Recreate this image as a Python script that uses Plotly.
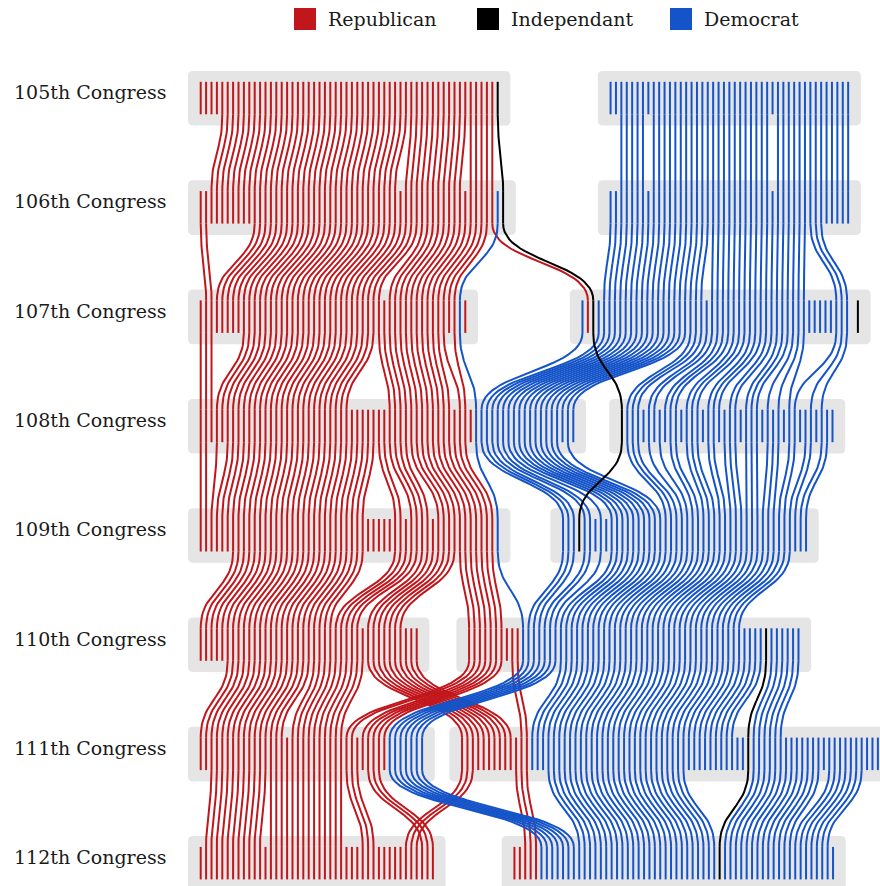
import numpy as np
import plotly.graph_objects as go

# ---------------- data ----------------
CONGRESSES = ["105th Congress", "106th Congress", "107th Congress", "108th Congress",
              "109th Congress", "110th Congress", "111th Congress", "112th Congress"]
PARTIES = ["R", "I", "D"]
PARTY_NAMES = {"R": "Republican", "I": "Independant", "D": "Democrat"}

# seats of every group (box) in each congress, as runs of (party, count); "-" = empty slot
GROUP_RUNS = [
    [[("R", 55), ("I", 1)], [("D", 45)]],
    [[("R", 55), ("D", 1), ("I", 1)], [("D", 45)]],
    [[("R", 48), ("D", 1), ("R", 1)], [("D", 1), ("R", 1), ("I", 1), ("D", 47), ("-", 1), ("I", 1)]],
    [[("R", 51), ("D", 19)], [("I", 1), ("D", 39)]],
    [[("R", 55), ("D", 1)], [("D", 3), ("I", 1), ("D", 42)]],
    [[("R", 41)], [("R", 10), ("D", 45), ("I", 1), ("D", 6)]],
    [[("R", 35), ("D", 7)], [("R", 13), ("D", 40), ("I", 1), ("D", 24)]],
    [[("R", 44)], [("R", 5), ("D", 33), ("I", 1), ("D", 21)]],
]
# storyline layout: first slot of each group (in slot units)
GROUP_START = [[0, 75.9], [0, 75.9], [0, 70.7], [0, 78.0],
               [0, 67.1], [0, 49.7], [0, 48.4], [0, 58.1]]

# senators carried from one congress to the next: (source slots, target slots)
FLOWS = [
    [("4-54", "2-36,38-48,50-54"), ("55", "56"),
     ("58-62,64-85,87-100", "59-63,65-86,88-101")],
    [("0-1,10-53", "1-33,35-47"), ("54", "51"), ("56", "52"), ("55", "48"),
     ("57-75", "54-72"), ("76-93", "74-91"), ("94-96", "97-99")],
    [("0-2,8-45,47", "0-27,35-46,48-49"), ("48", "51"), ("50", "52"), ("53-69", "53-69"),
     ("52", "70"),
     ("70-91,97-99", "71-73,75-76,78-80,82-84,86-88,90-91,93-95,97,99,101-102,105,107")],
    [("0-1,3,5-49", "0-30,36-37,39-42,44-54"), ("51", "55"),
     ("52-66,68", "56-58,60-61,63,65-74"), ("70", "59"),
     ("71-73,75,77,79-80,82-84,86-87,89-91,93-95,97-99,101-102,104-105,107-108", "75-101")],
    [("6-30", "0-24"), ("36-47", "25-29,31-37"), ("48-54", "41-47"),
     ("55", "51"), ("56-58,60-61,63,65-98", "52-91")],
    [("5-30", "0-15,17-26"), ("31-40", "42-51"), ("41-47", "27-28,30-34"), ("49-50", "53-54"),
     ("51-57", "35-41"), ("58-95", "55-92"), ("96", "95"), ("97-102", "96-101")],
    [("2-29", "1-11,13-26,30-32"), ("31-33", "41-43"), ("42-44", "38-40"), ("52-54", "46-48"),
     ("35-41", "49-55"), ("58-83", "56-81"), ("95", "82"), ("96-108,110-116", "83-102")],
]

# ---------------- style / geometry ----------------
W, H = 880, 886
SLOT_PX = 5.4
X0_PX = 200.7
ROW0_CY = 98.3
ROW_STEP = 109.3
BOX_HALF = 27.3
SEG_TOP = 16.5
SEG_BOT = 16.0
PAD_U = 2.35
COLORS = {"R": "#c1161c", "I": "#000000", "D": "#1554c8"}
BOX_FILL = "#e5e5e5"
FONT = "DejaVu Serif"


def parse(spec):
    out = []
    for part in spec.split(","):
        if "-" in part:
            a, b = part.split("-")
            out.extend(range(int(a), int(b) + 1))
        else:
            out.append(int(part))
    return out


rows = []
boxes = []
for k, groups in enumerate(GROUP_RUNS):
    slots = []
    for g, runs in enumerate(groups):
        pos = GROUP_START[k][g]
        gslots = []
        for party, count in runs:
            for _ in range(count):
                if party != "-":
                    gslots.append((pos, party))
                pos += 1
        boxes.append((k, gslots[0][0] - PAD_U, gslots[-1][0] + PAD_U))
        slots.extend(gslots)
    rows.append(slots)


def cy(k):
    return ROW0_CY + ROW_STEP * k


paths = {p: ([], []) for p in PARTIES}

# vertical segments inside each congress
for k, slots in enumerate(rows):
    for u, party in slots:
        xs, ys = paths[party]
        xs += [u, u, None]
        ys += [cy(k) - SEG_TOP, cy(k) + SEG_BOT, None]

# connecting curves
t = np.linspace(0, 1, 26)
for k, flows in enumerate(FLOWS):
    y0 = cy(k) + SEG_BOT
    y1 = cy(k + 1) - SEG_TOP
    h = y1 - y0
    for src, dst in flows:
        for a, b in zip(parse(src), parse(dst)):
            if a >= len(rows[k]) or b >= len(rows[k + 1]):
                continue
            ua, party = rows[k][a]
            ub = rows[k + 1][b][0]
            bx = (1 - t) ** 3 * ua + 3 * (1 - t) ** 2 * t * ua + 3 * (1 - t) * t ** 2 * ub + t ** 3 * ub
            by = ((1 - t) ** 3 * y0 + 3 * (1 - t) ** 2 * t * (y0 + 0.5 * h)
                  + 3 * (1 - t) * t ** 2 * (y1 - 0.5 * h) + t ** 3 * y1)
            xs, ys = paths[party]
            xs += list(bx) + [None]
            ys += list(by) + [None]

fig = go.Figure()
for party in ["R", "D", "I"]:
    xs, ys = paths[party]
    fig.add_trace(go.Scatter(x=xs, y=ys, mode="lines",
                             line=dict(color=COLORS[party], width=2),
                             hoverinfo="skip", showlegend=False))

shapes = []
rx = 5 / SLOT_PX
ry = 5
for k, x0, x1 in boxes:
    y0 = cy(k) - BOX_HALF
    y1 = cy(k) + BOX_HALF
    p = (f"M{x0 + rx},{y0} L{x1 - rx},{y0} Q{x1},{y0} {x1},{y0 + ry} "
         f"L{x1},{y1 - ry} Q{x1},{y1} {x1 - rx},{y1} L{x0 + rx},{y1} "
         f"Q{x0},{y1} {x0},{y1 - ry} L{x0},{y0 + ry} Q{x0},{y0} {x0 + rx},{y0} Z")
    shapes.append(dict(type="path", path=p, xref="x", yref="y",
                       fillcolor=BOX_FILL, line=dict(width=0), layer="below"))

annotations = []
for k, name in enumerate(CONGRESSES):
    annotations.append(dict(x=12 / W, xref="paper", y=cy(k) - 6.3, yref="y",
                            text=name, showarrow=False, xanchor="left", yanchor="middle",
                            font=dict(family=FONT, size=19, color="#1a1a1a")))

# legend
LEG_X = {"R": 294, "I": 477, "D": 670}
for party in PARTIES:
    lx = LEG_X[party]
    shapes.append(dict(type="rect", xref="paper", yref="paper",
                       x0=lx / W, x1=(lx + 22) / W, y0=1 - 30 / H, y1=1 - 8 / H,
                       fillcolor=COLORS[party], line=dict(width=0)))
    annotations.append(dict(x=(lx + 32) / W, xref="paper", y=1 - 19.5 / H, yref="paper",
                            text=PARTY_NAMES[party], showarrow=False,
                            xanchor="left", yanchor="middle",
                            font=dict(family=FONT, size=19, color="#1a1a1a")))

fig.update_layout(
    width=W, height=H,
    margin=dict(l=0, r=0, t=0, b=0),
    paper_bgcolor="white", plot_bgcolor="white",
    xaxis=dict(range=[-X0_PX / SLOT_PX, (W - X0_PX) / SLOT_PX], visible=False, fixedrange=True),
    yaxis=dict(range=[H, 0], visible=False, fixedrange=True),
    shapes=shapes, annotations=annotations,
)

fig.write_html("out.html", config={"displayModeBar": False},
               post_script="document.body.style.margin='0px';document.body.style.overflow='hidden';")
